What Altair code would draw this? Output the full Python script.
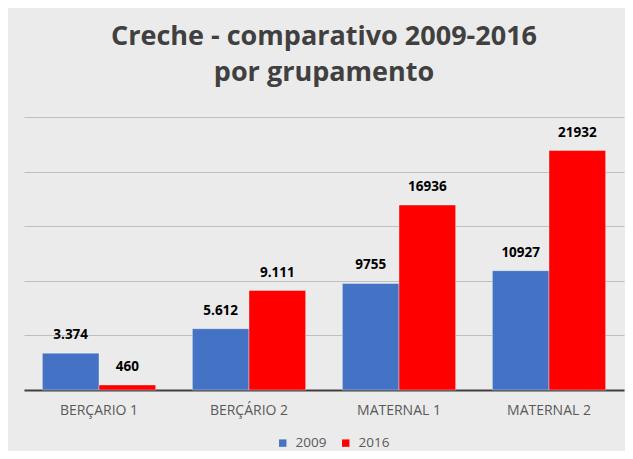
import altair as alt
import pandas as pd

categories = ["BERÇARIO 1", "BERÇÁRIO 2", "MATERNAL 1", "MATERNAL 2"]
years = ["2009", "2016"]
values_2009 = [3374, 5612, 9755, 10927]
values_2016 = [460, 9111, 16936, 21932]
labels_2009 = ["3.374", "5.612", "9755", "10927"]
labels_2016 = ["460", "9.111", "16936", "21932"]
colors = ["#4472C4", "#FF0000"]
y_ticks = [0, 5000, 10000, 15000, 20000, 25000]

rows = []
for i, c in enumerate(categories):
    rows.append({"cat": c, "year": years[0], "value": values_2009[i], "label": labels_2009[i]})
    rows.append({"cat": c, "year": years[1], "value": values_2016[i], "label": labels_2016[i]})
df = pd.DataFrame(rows)

base = alt.Chart(df).encode(
    x=alt.X(
        "cat:N",
        sort=categories,
        scale=alt.Scale(paddingInner=0.245, paddingOuter=0.1225),
        axis=alt.Axis(
            title=None, labelAngle=0, ticks=False, domain=True,
            domainColor="#404040", domainWidth=2, labelPadding=13,
            labelFont="Open Sans", labelFontSize=14, labelColor="#595959",
        ),
    ),
    xOffset=alt.XOffset("year:N", sort=years),
)

bars = base.mark_bar(stroke="white", strokeWidth=0.6, strokeOpacity=0.6).encode(
    y=alt.Y(
        "value:Q",
        scale=alt.Scale(domain=[0, 25000], nice=False),
        axis=alt.Axis(
            title=None, labels=False, ticks=False, domain=False,
            values=y_ticks, gridColor="#BFBFBF", gridWidth=1,
        ),
    ),
    color=alt.Color(
        "year:N",
        sort=years,
        scale=alt.Scale(domain=years, range=colors),
        legend=alt.Legend(
            title=None, orient="none", direction="horizontal",
            legendX=252, legendY=319,
            symbolType="square", symbolSize=55, symbolStrokeWidth=0,
            labelFont="Open Sans", labelFontSize=13.5, labelColor="#595959",
            labelOffset=6, columnPadding=12,
        ),
    ),
)

text = base.mark_text(
    dy=-18, font="Open Sans", fontWeight="bold", fontSize=13.5,
    color="#000000", baseline="middle",
).encode(y="value:Q", text="label:N")

chart = (
    alt.layer(bars, text)
    .properties(
        width=600,
        height=273,
        autosize="none",
        padding={"left": 16, "top": 109, "right": 1, "bottom": 61},
        background="#EBEBEB",
        title=alt.TitleParams(
            ["Creche - comparativo 2009-2016", "por grupamento"],
            font="Open Sans", fontSize=27, fontWeight="bold",
            color="#404040", anchor="middle", offset=30, lineHeight=36,
        ),
    )
    .configure_view(stroke=None)
)

chart.save("out.html", embed_options={"renderer": "svg", "actions": False})
